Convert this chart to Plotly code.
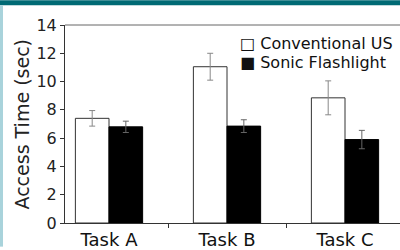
import plotly.graph_objects as go

tasks = ["Task A", "Task B", "Task C"]
conventional = [7.4, 11.05, 8.85]
conventional_err = [0.55, 0.95, 1.2]
sonic = [6.8, 6.85, 5.9]
sonic_err = [0.4, 0.45, 0.65]
series_names = ["Conventional US", "Sonic Flashlight"]

FONT = "DejaVu Sans, Verdana, sans-serif"

fig = go.Figure()
fig.add_trace(go.Bar(
    x=tasks, y=conventional, name=series_names[0],
    marker=dict(color="white", line=dict(color="#333", width=1)),
    error_y=dict(type="data", array=conventional_err, color="#888", thickness=1, width=3),
    showlegend=False,
))
fig.add_trace(go.Bar(
    x=tasks, y=sonic, name=series_names[1],
    marker=dict(color="black", line=dict(color="black", width=1)),
    error_y=dict(type="data", array=sonic_err, color="#666", thickness=1, width=3),
    showlegend=False,
))

W, H = 400, 250
L, R, T, B = 65, 0, 25, 24
pw, ph = W - L - R, H - T - B

def px(x):
    return (x - L) / pw

def py(y):
    return (H - B - y) / ph

fig.update_layout(
    width=W, height=H,
    margin=dict(l=L, r=R, t=T, b=B),
    paper_bgcolor="white", plot_bgcolor="white",
    barmode="group", bargap=0.43, bargroupgap=0,
    font=dict(family=FONT, size=15, color="#222"),
    xaxis=dict(
        range=[-0.373, 2.466], showline=True, linecolor="#333", linewidth=1,
        mirror=False, ticks="outside", tickson="boundaries", ticklen=4,
        tickcolor="#333", tickfont=dict(size=18, color="#111"), showgrid=False,
    ),
    yaxis=dict(
        range=[0, 14], dtick=2, showline=True, linecolor="#333", linewidth=1,
        ticks="outside", ticklen=4, tickcolor="#333", showgrid=False,
        zeroline=False, tickfont=dict(size=16, color="#222"),
    ),
    shapes=[
        dict(type="line", xref="paper", yref="paper", x0=0, x1=1, y0=1, y1=1,
             line=dict(color="#666", width=1)),
        dict(type="rect", xref="paper", yref="paper", x0=px(0), x1=px(W),
             y0=py(5), y1=py(0), fillcolor="#006a74", line=dict(width=0)),
        dict(type="rect", xref="paper", yref="paper", x0=px(0), x1=px(3),
             y0=py(H), y1=py(5), fillcolor="#a9d3db", line=dict(width=0)),
    ],
    annotations=[
        dict(text="Access Time (sec)", textangle=-90, xref="paper", yref="paper",
             x=px(22), y=py(126), xanchor="center", yanchor="middle",
             showarrow=False, font=dict(size=19, color="#222")),
        dict(text="□ " + series_names[0], xref="paper", yref="paper",
             x=px(238), y=py(44), xanchor="left", yanchor="middle",
             showarrow=False, font=dict(size=16, color="#111")),
        dict(text="■ " + series_names[1], xref="paper", yref="paper",
             x=px(238), y=py(63), xanchor="left", yanchor="middle",
             showarrow=False, font=dict(size=16, color="#111")),
    ],
)

fig.write_html("out.html", config={"displayModeBar": False},
               post_script="document.body.style.margin='0';document.body.style.overflow='hidden';")
